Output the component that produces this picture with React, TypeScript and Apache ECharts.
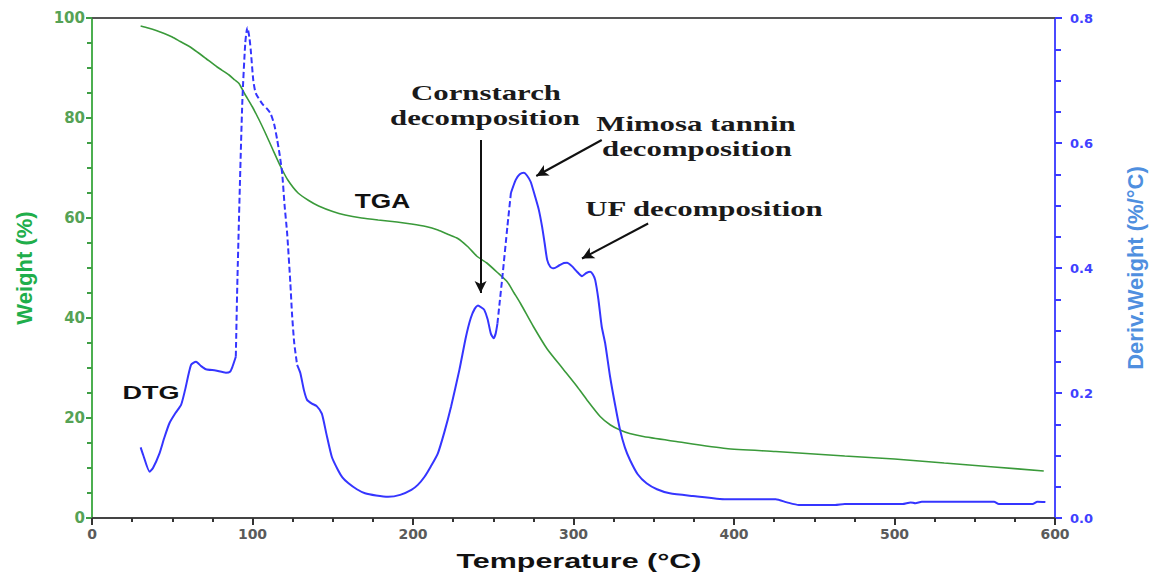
import React, { useEffect, useRef } from "react";
import * as echarts from "echarts";

// TGA curve: temperature (°C) and weight (%)
const TGA_T = [30.3, 35, 40, 45, 50, 55, 60.7, 66, 71, 78, 85.4, 89, 91.6, 95, 99.8, 104, 108, 112.5, 117.5, 122, 128.4, 135, 141.2, 150, 157.7, 168, 178.3, 190, 199, 208, 215.5, 222, 227.9, 234, 240, 246, 252.6, 258.8, 263, 267, 275, 283.6, 293, 302.2, 308.4, 316.6, 323, 329, 335, 343.5, 364, 395, 426, 469, 500, 531, 562, 593];
const TGA_W = [98.4, 98.0, 97.5, 96.9, 96.2, 95.3, 94.3, 93.1, 91.9, 90.2, 88.6, 87.6, 86.9, 84.9, 82.3, 79.7, 77.0, 73.8, 70.3, 67.6, 65.0, 63.5, 62.4, 61.3, 60.6, 60.0, 59.6, 59.2, 58.8, 58.3, 57.6, 56.7, 55.9, 54.3, 52.3, 51.0, 49.1, 47.2, 45.0, 42.9, 38.3, 33.8, 30.0, 26.3, 23.6, 20.3, 18.6, 17.6, 16.9, 16.3, 15.3, 13.9, 13.3, 12.4, 11.8, 11.0, 10.2, 9.4];

// DTG curve: temperature (°C) and derivative weight (%/°C)
const DTG_T = [30.3, 32, 35.9, 38, 42, 45, 48.3, 52, 55.5, 58, 61.7, 64.8, 68, 71, 77, 83.4, 86, 87.5, 89.6, 90.5, 92, 93.7, 95.5, 96.8, 98, 98.9, 100.5, 102, 106, 109, 111.3, 113.5, 115.4, 117, 118.5, 120, 121.6, 123.6, 124.6, 126, 127.8, 129.8, 132, 134, 137, 140, 143.2, 146, 149.4, 153, 156, 159.8, 165, 170.1, 177, 184.5, 192, 199, 203, 207.2, 211, 215.5, 219.5, 223.7, 228.9, 233, 236, 238.5, 240.5, 242.5, 244.4, 246.5, 248.5, 250.2, 251.5, 252.6, 254, 255.7, 258.8, 261, 264, 266.5, 269.1, 271, 273.3, 276, 278.4, 280.5, 282, 283.6, 285.5, 287.7, 291, 294, 296, 299, 302.2, 305.3, 308, 310.4, 312, 313.5, 315.5, 317.6, 319.7, 322.8, 326, 329, 332, 335.2, 340, 345.5, 352, 360, 374.4, 395, 426, 433, 440.4, 463, 469, 505, 510, 513, 517, 562, 565, 586, 589, 594];
const DTG_D = [0.113, 0.1, 0.074, 0.08, 0.103, 0.128, 0.152, 0.168, 0.181, 0.205, 0.245, 0.25, 0.243, 0.238, 0.236, 0.2325, 0.234, 0.242, 0.258, 0.37, 0.52, 0.669, 0.76, 0.785, 0.77, 0.749, 0.7, 0.68, 0.663, 0.655, 0.647, 0.63, 0.605, 0.58, 0.551, 0.5, 0.455, 0.375, 0.3275, 0.28, 0.245, 0.232, 0.205, 0.189, 0.183, 0.179, 0.167, 0.135, 0.098, 0.078, 0.065, 0.0555, 0.046, 0.0395, 0.036, 0.034, 0.037, 0.045, 0.053, 0.066, 0.082, 0.1035, 0.137, 0.178, 0.237, 0.29, 0.32, 0.335, 0.34, 0.337, 0.333, 0.318, 0.295, 0.2875, 0.295, 0.311, 0.345, 0.386, 0.466, 0.52, 0.541, 0.55, 0.5525, 0.548, 0.538, 0.515, 0.493, 0.465, 0.44, 0.413, 0.402, 0.3995, 0.404, 0.408, 0.4085, 0.403, 0.394, 0.387, 0.392, 0.394, 0.39, 0.381, 0.35, 0.306, 0.28, 0.226, 0.18, 0.141, 0.113, 0.0928, 0.07, 0.0555, 0.046, 0.0395, 0.0352, 0.0299, 0.0299, 0.025, 0.0208, 0.0208, 0.0224, 0.0224, 0.025, 0.0235, 0.026, 0.026, 0.0224, 0.0224, 0.026, 0.0255];

// Temperature ranges where the DTG trace is drawn dashed
const DTG_DASHED = [[89.6, 127.8], [252.6, 261]];

// Annotation arrows in data coordinates [T, weight]: [tail, head]
const ARROWS = [
  [[242.1, 75.6], [242.1, 45.0]],
  [[317.6, 75.6], [276.8, 68.4]],
  [[346.5, 58.9], [305.3, 51.9]],
];

const X_TICKS = { min: 0, max: 600, interval: 100 };
const Y_LEFT = { min: 0, max: 100, interval: 20 };
const Y_RIGHT = { min: 0, max: 0.8, interval: 0.2 };

const SANS = '"Liberation Sans", Arial, sans-serif';
const SERIF = '"Liberation Serif", "Times New Roman", serif';
const TICKFONT = '"DejaVu Sans", sans-serif';

function txt(text: string, x: number, y: number, font: string, size: number, scaleX: number, fill = "#111") {
  return {
    type: "text",
    x,
    y,
    scaleX,
    silent: true,
    style: {
      text,
      fontFamily: font,
      fontSize: size,
      fontWeight: "bold",
      fill,
      align: "center",
      verticalAlign: "middle",
      textAlign: "center",
      textVerticalAlign: "middle",
    },
  };
}

export default function App() {
  const ref = useRef<HTMLDivElement>(null);
  useEffect(() => {
    document.body.style.margin = "0";
    if (!ref.current) return;
    const chart = echarts.init(ref.current, null, { renderer: "svg" });

    const inDash = (t: number) => DTG_DASHED.some(([a, b]) => t >= a && t <= b);
    const inDashOpen = (t: number) => DTG_DASHED.some(([a, b]) => t > a && t < b);
    const tga = TGA_T.map((t, i) => [t, TGA_W[i]]);
    const dtgSolid = DTG_T.map((t, i) => (inDashOpen(t) ? [t, "-"] : [t, DTG_D[i]]));
    const dtgDashed = DTG_T.map((t, i) => (inDash(t) ? [t, DTG_D[i]] : [t, "-"]));

    chart.setOption({
      animation: false,
      backgroundColor: "#ffffff",
      grid: { left: 92, right: 93, top: 18, bottom: 57, containLabel: false },
      xAxis: [
        {
          type: "value",
          position: "bottom",
          ...X_TICKS,
          axisLine: { show: true, onZero: false, lineStyle: { color: "#444", width: 2 } },
          axisTick: { show: true, inside: false, length: 7, lineStyle: { color: "#333", width: 2 } },
          minorTick: { show: true, splitNumber: 4, length: 4, lineStyle: { color: "#333", width: 2 } },
          axisLabel: { color: "#5a5a5a", fontFamily: TICKFONT, fontWeight: "bold", fontSize: 14, margin: 9 },
          splitLine: { show: false },
          minorSplitLine: { show: false },
        },
        {
          type: "value",
          position: "top",
          ...X_TICKS,
          axisLine: { show: true, onZero: false, lineStyle: { color: "#555", width: 2 } },
          axisTick: { show: false },
          minorTick: { show: false },
          axisLabel: { show: false },
          splitLine: { show: false },
        },
      ],
      yAxis: [
        {
          type: "value",
          position: "left",
          ...Y_LEFT,
          name: "Weight (%)",
          nameLocation: "middle",
          nameRotate: 90,
          nameGap: 57,
          nameTextStyle: { color: "#1fae4b", fontFamily: SANS, fontWeight: "bold", fontSize: 22 },
          axisLine: { show: true, onZero: false, lineStyle: { color: "#4caf50", width: 2 } },
          axisTick: { show: true, inside: false, length: 6, lineStyle: { color: "#3f9f45", width: 2 } },
          minorTick: { show: true, splitNumber: 4, length: 5, lineStyle: { color: "#3f9f45", width: 2 } },
          axisLabel: { color: "#55a255", fontFamily: TICKFONT, fontWeight: "bold", fontSize: 15, margin: 7 },
          splitLine: { show: false },
          minorSplitLine: { show: false },
        },
        {
          type: "value",
          position: "right",
          ...Y_RIGHT,
          name: "Deriv.Weight (%/°C)",
          nameLocation: "middle",
          nameRotate: 90,
          nameGap: 69,
          nameTextStyle: { color: "#4f8fdf", fontFamily: SANS, fontWeight: "bold", fontSize: 22 },
          axisLine: { show: true, onZero: false, lineStyle: { color: "#4a4aff", width: 2 } },
          axisTick: { show: true, inside: false, length: 7, lineStyle: { color: "#3a3aff", width: 2 } },
          minorTick: { show: true, splitNumber: 4, length: 6, lineStyle: { color: "#3a3aff", width: 2 } },
          axisLabel: {
            color: "#4040ff",
            fontFamily: TICKFONT,
            fontWeight: "bold",
            fontSize: 13,
            margin: 15,
            formatter: (v: number) => v.toFixed(1),
          },
          splitLine: { show: false },
          minorSplitLine: { show: false },
        },
      ],
      series: [
        {
          name: "TGA",
          type: "line",
          xAxisIndex: 0,
          yAxisIndex: 0,
          data: tga,
          showSymbol: false,
          symbol: "none",
          smooth: 0.2,
          lineStyle: { color: "#3a9a3a", width: 1.6 },
          z: 3,
          markLine: {
            silent: true,
            symbol: ["none", "arrow"],
            symbolSize: [9, 12],
            label: { show: false },
            lineStyle: { color: "#111", width: 2, type: "solid" },
            data: ARROWS.map(([a, b]) => [{ coord: a }, { coord: b }]),
          },
        },
        {
          name: "DTG",
          type: "line",
          xAxisIndex: 0,
          yAxisIndex: 1,
          data: dtgSolid,
          showSymbol: false,
          symbol: "none",
          smooth: 0.2,
          connectNulls: false,
          lineStyle: { color: "#3535ff", width: 2 },
          z: 4,
        },
        {
          name: "DTG (steep)",
          type: "line",
          xAxisIndex: 0,
          yAxisIndex: 1,
          data: dtgDashed,
          showSymbol: false,
          symbol: "none",
          smooth: 0.2,
          connectNulls: false,
          lineStyle: { color: "#3535ff", width: 2, type: [6, 3] },
          z: 4,
        },
      ],
      graphic: [
        txt("Cornstarch", 486, 92.5, SERIF, 22, 1.4, "#1a1a1a"),
        txt("decomposition", 485, 118, SERIF, 22, 1.4, "#1a1a1a"),
        txt("Mimosa tannin", 696, 124, SERIF, 22, 1.4, "#1a1a1a"),
        txt("decomposition", 697, 149, SERIF, 22, 1.4, "#1a1a1a"),
        txt("UF decomposition", 704, 209, SERIF, 22, 1.4, "#1a1a1a"),
        txt("TGA", 382.5, 200, SANS, 21, 1.25),
        txt("DTG", 151, 393, SANS, 18, 1.5),
        txt("Temperature (°C)", 579, 561, SANS, 21, 1.45),
      ],
    });
    return () => chart.dispose();
  }, []);
  return <div ref={ref} style={{ width: 1154, height: 575, position: "absolute", left: 0, top: 0 }} />;
}
